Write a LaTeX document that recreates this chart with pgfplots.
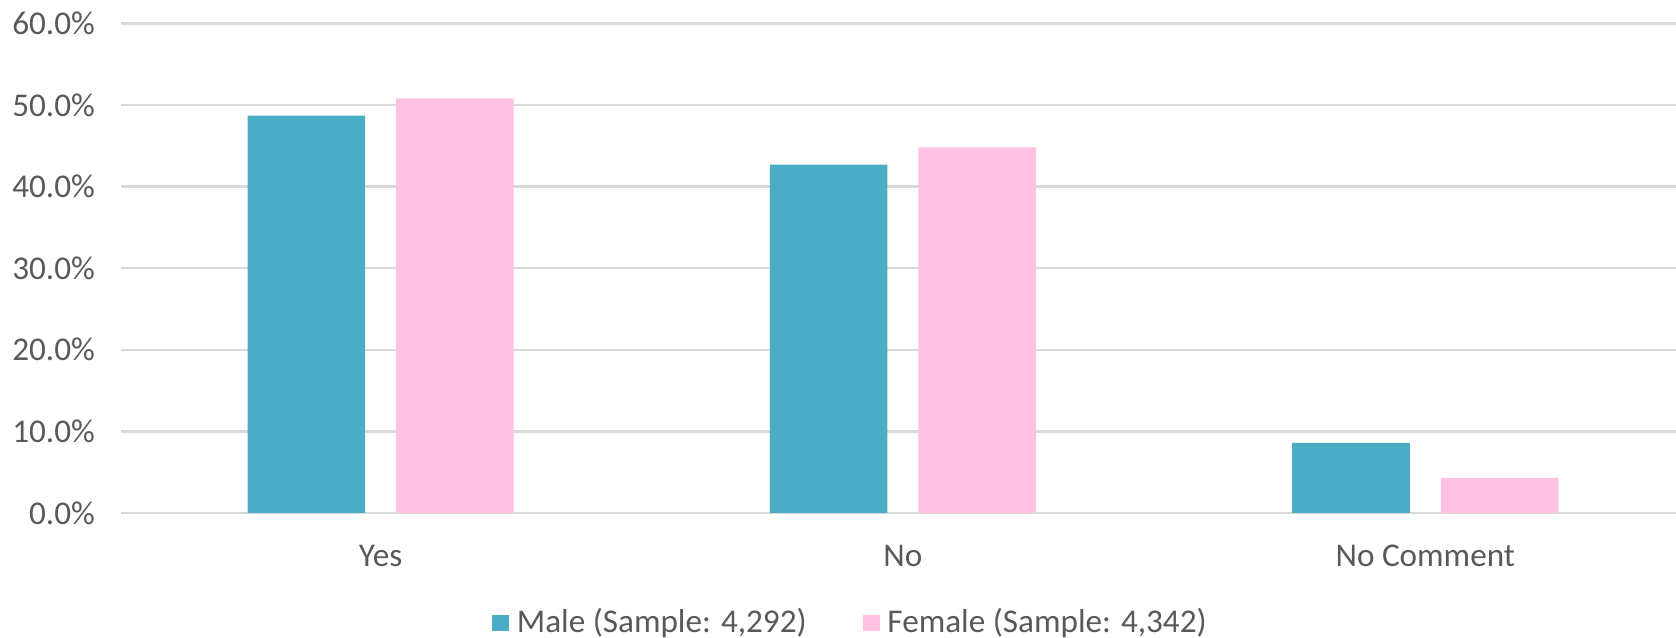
\documentclass[border=0pt]{standalone}
\usepackage{pgfplots}
\pgfplotsset{compat=1.18}
\usepackage{fontspec}
\setmainfont{Carlito}
\definecolor{txt}{HTML}{595959}
\definecolor{gridc}{HTML}{D9D9D9}
\definecolor{male}{HTML}{4BACC6}
\definecolor{female}{HTML}{FFC2E3}
\begin{document}
\begin{tikzpicture}
\useasboundingbox (0,0) rectangle (419pt,159.5pt);
\begin{axis}[
  at={(30.25pt,31.25pt)}, anchor=south west,
  scale only axis, width=388.75pt, height=122.4pt,
  xmin=-0.497, xmax=2.48, ymin=0, ymax=60,
  ybar=7.75pt, bar width=29.4pt,
  xtick={0,1,2}, xticklabels={Yes,No,No Comment},
  ytick={0,10,...,60},
  yticklabel={\pgfmathprintnumber[fixed,fixed zerofill,precision=1,assume math mode=true]{\tick}\%},
  ymajorgrids, grid style={gridc, line width=0.6pt},
  axis line style={draw=none}, major tick length=0pt,
  tick label style={font=\fontsize{8.3}{10}\selectfont, text=txt},
  xticklabel style={yshift=-4.5pt},
  yticklabel style={xshift=-3pt},
  legend style={at={(0.471,0)}, anchor=center, yshift=-27.5pt, draw=none,
    font=\fontsize{8.3}{10}\selectfont, text=txt, legend columns=2,
    /tikz/every even column/.append style={column sep=12pt}},
  legend image code/.code={\fill (0pt,-2.1pt) rectangle (4.2pt,2.1pt);},
]
\addplot[fill=male, draw=none] coordinates {(0,48.7) (1,42.7) (2,8.6)};
\addplot[fill=female, draw=none] coordinates {(0,50.8) (1,44.8) (2,4.3)};
\legend{{Male (Sample: 4,292)}, {Female (Sample: 4,342)}}
\end{axis}
\end{tikzpicture}
\end{document}
